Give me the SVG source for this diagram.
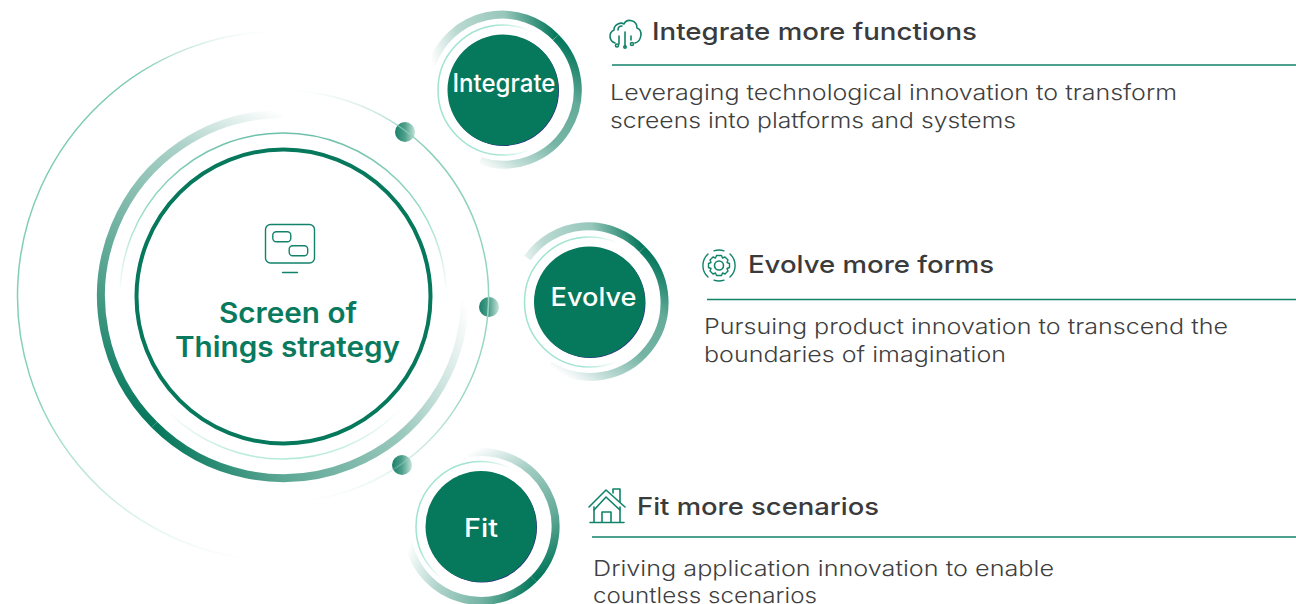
<svg xmlns="http://www.w3.org/2000/svg" width="1296" height="604" viewBox="0 0 1296 604">
<style>
text{font-family:Inter,"Open Sans","Liberation Sans",sans-serif}
.head{font-size:24px;font-weight:500;fill:#3b3b3b}
.body{font-size:22px;font-weight:300;fill:#3f3f3f}
.title{font-size:28px;font-weight:600;fill:#0a7a5e}
.lab{font-weight:500;fill:#fff}
.rule{stroke:#12836a;stroke-width:1.5;fill:none}
.ico{stroke:#12836a;stroke-width:1.6;fill:none;stroke-linecap:round;stroke-linejoin:round}
.thick{fill:none;stroke-width:8}
.thin{fill:none;stroke-width:1.5}
.disc{fill:#06785c}
.sliver{fill:#2b2a85}
</style>
<defs>
<linearGradient id="mainA" gradientUnits="userSpaceOnUse" x1="283" y1="114" x2="154" y2="425"><stop offset="0" stop-color="#06785c" stop-opacity="0"/><stop offset=".2" stop-color="#06785c" stop-opacity=".33"/><stop offset=".6" stop-color="#06785c" stop-opacity=".65"/><stop offset="1" stop-color="#06785c"/></linearGradient>
<linearGradient id="mainB" gradientUnits="userSpaceOnUse" x1="154" y1="425" x2="465" y2="300"><stop offset="0" stop-color="#06785c"/><stop offset=".3" stop-color="#06785c" stop-opacity=".65"/><stop offset=".68" stop-color="#06785c" stop-opacity=".4"/><stop offset="1" stop-color="#06785c" stop-opacity="0"/></linearGradient>
<linearGradient id="mainThin" gradientUnits="userSpaceOnUse" x1="0" y1="133" x2="0" y2="459"><stop offset="0" stop-color="#6cbfa8"/><stop offset=".25" stop-color="#9adccb"/><stop offset=".49" stop-color="#9adccb" stop-opacity="0"/><stop offset=".85" stop-color="#b5ead9" stop-opacity="0"/><stop offset="1" stop-color="#b5ead9"/></linearGradient>
<linearGradient id="outerL" gradientUnits="userSpaceOnUse" x1="0" y1="31" x2="0" y2="561"><stop offset="0" stop-color="#7cc9b3" stop-opacity="0"/><stop offset=".08" stop-color="#7cc9b3"/><stop offset=".7" stop-color="#85d2bc"/><stop offset="1" stop-color="#85d2bc" stop-opacity="0"/></linearGradient>
<linearGradient id="outerR" gradientUnits="userSpaceOnUse" x1="0" y1="90" x2="0" y2="502"><stop offset="0" stop-color="#7cc9b3" stop-opacity="0"/><stop offset=".12" stop-color="#8ccfbb"/><stop offset=".75" stop-color="#9bd8c6"/><stop offset="1" stop-color="#9bd8c6" stop-opacity="0"/></linearGradient>
<linearGradient id="dot" x1="0" y1="0" x2="1" y2="0"><stop offset="0" stop-color="#1a8069"/><stop offset=".5" stop-color="#4fa08c"/><stop offset="1" stop-color="#c5e3da"/></linearGradient>
<linearGradient id="upA" gradientUnits="userSpaceOnUse" x1="-71" y1="-25" x2="53" y2="-53"><stop offset="0" stop-color="#06785c" stop-opacity="0"/><stop offset=".25" stop-color="#06785c" stop-opacity=".28"/><stop offset=".65" stop-color="#06785c" stop-opacity=".42"/><stop offset="1" stop-color="#06785c"/></linearGradient>
<linearGradient id="upB" gradientUnits="userSpaceOnUse" x1="53" y1="-53" x2="-30" y2="71"><stop offset="0" stop-color="#06785c"/><stop offset=".3" stop-color="#06785c" stop-opacity=".62"/><stop offset=".6" stop-color="#06785c" stop-opacity=".55"/><stop offset=".85" stop-color="#06785c" stop-opacity=".25"/><stop offset="1" stop-color="#06785c" stop-opacity="0"/></linearGradient>
<linearGradient id="upThin" gradientUnits="userSpaceOnUse" x1="-65" y1="0" x2="28" y2="0"><stop offset="0" stop-color="#9fe3d0"/><stop offset=".6" stop-color="#9fe3d0"/><stop offset="1" stop-color="#9fe3d0" stop-opacity="0"/></linearGradient>
<linearGradient id="fitA" gradientUnits="userSpaceOnUse" x1="-14" y1="-73" x2="53" y2="53"><stop offset="0" stop-color="#06785c" stop-opacity="0"/><stop offset=".3" stop-color="#06785c" stop-opacity=".38"/><stop offset=".65" stop-color="#06785c" stop-opacity=".62"/><stop offset="1" stop-color="#06785c"/></linearGradient>
<linearGradient id="fitB" gradientUnits="userSpaceOnUse" x1="53" y1="53" x2="-72" y2="17"><stop offset="0" stop-color="#06785c"/><stop offset=".35" stop-color="#06785c" stop-opacity=".55"/><stop offset=".7" stop-color="#06785c" stop-opacity=".32"/><stop offset="1" stop-color="#06785c" stop-opacity="0"/></linearGradient>
<linearGradient id="fitThin" gradientUnits="userSpaceOnUse" x1="-61" y1="-21" x2="-1" y2="16"><stop offset="0" stop-color="#9fe3d0"/><stop offset=".3" stop-color="#9fe3d0"/><stop offset=".82" stop-color="#9fe3d0" stop-opacity="0"/></linearGradient>
</defs>

<g id="connectors">
<circle cx="405" cy="132" r="10" fill="url(#dot)"/>
<circle cx="489" cy="307" r="10" fill="url(#dot)"/>
<circle cx="402" cy="465" r="10" fill="url(#dot)"/>
<path class="thin" stroke="url(#outerL)" d="M283 31A265 265 0 0 0 250 559"/>
<path class="thin" stroke="url(#outerR)" d="M283 90.500A205.500 205.500 0 1 1 265 500.700"/>
</g>

<g id="center">
<path class="thick" stroke="url(#mainA)" d="M283 114A182 182 0 0 0 154.300 424.700"/>
<path class="thick" stroke="url(#mainB)" d="M154.300 424.700A182 182 0 0 0 465 300"/>
<circle class="thin" cx="283" cy="296" r="163" stroke="url(#mainThin)"/>
<circle cx="283.500" cy="296.500" r="147" fill="none" stroke="#06785c" stroke-width="4"/>
<g class="ico" style="stroke-width:1.4">
<rect x="265.500" y="224.500" width="49" height="38.500" rx="5"/>
<rect x="272.800" y="231.800" width="18" height="10" rx="3.500"/>
<rect x="289.200" y="245.800" width="18.500" height="10" rx="3.500"/>
<path d="M282.500 272.500H297.500"/>
</g>
<text class="title" x="288" y="323" text-anchor="middle" textLength="138" lengthAdjust="spacingAndGlyphs">Screen of</text>
<text class="title" x="287.500" y="357" text-anchor="middle" textLength="225" lengthAdjust="spacingAndGlyphs">Things strategy</text>
</g>

<g id="integrate" transform="translate(503 90)">
<path class="thick" stroke="url(#upA)" d="M-71 -26A74.500 74.500 0 0 1 52.700 -52.700"/>
<path class="thick" stroke="url(#upB)" d="M52.700 -52.700A74.500 74.500 0 0 1 -23 71"/>
<circle class="thin" r="65" stroke="url(#upThin)"/>
<circle class="sliver" cx=".7" cy=".7" r="55.300"/>
<circle class="disc" r="55.500"/>
<text class="lab" x="1" y="2" font-size="25.500" text-anchor="middle" textLength="103" lengthAdjust="spacingAndGlyphs">Integrate</text>
</g>

<g id="evolve" transform="translate(589.500 302)">
<path class="thick" stroke="url(#upA)" d="M-62 -44A74.500 74.500 0 0 1 52.700 -52.700"/>
<path class="thick" stroke="url(#upB)" d="M52.700 -52.700A74.500 74.500 0 0 1 -40 63"/>
<circle class="thin" r="65" stroke="url(#upThin)"/>
<circle class="sliver" cx=".7" cy=".7" r="55.300"/>
<circle class="disc" r="55.500"/>
<text class="lab" x="4" y="4" font-size="25" text-anchor="middle" textLength="86" lengthAdjust="spacingAndGlyphs">Evolve</text>
</g>

<g id="fit" transform="translate(481 526.500)">
<path class="thick" stroke="url(#fitA)" d="M-14 -73.200A74.500 74.500 0 0 1 52.700 52.700"/>
<path class="thick" stroke="url(#fitB)" d="M52.700 52.700A74.500 74.500 0 0 1 -72.500 17"/>
<circle class="thin" r="65" stroke="url(#fitThin)"/>
<circle class="sliver" cx=".7" cy=".7" r="55.300"/>
<circle class="disc" r="55.500"/>
<text class="lab" x="0" y="10" font-size="25" text-anchor="middle" textLength="34" lengthAdjust="spacingAndGlyphs">Fit</text>
</g>

<g id="integrate-text">
<g class="ico">
<path d="M615 43C609 41 608 33 614 30C614 24 621 22 624 24C627 18 637 20 637 28C643 30 642 41 635 43"/>
<path d="M618 30C618 27 620 26 622 26"/>
<path d="M625 32V47M619 36V44M631 36V40"/>
<circle cx="617" cy="45.500" r="1.500"/><circle cx="625" cy="47" r="1.200"/><circle cx="632" cy="44" r="1.500"/>
</g>
<text class="head" x="652" y="40" textLength="325" lengthAdjust="spacingAndGlyphs">Integrate more functions</text>
<path class="rule" d="M612 65H1296"/>
<text class="body" x="610" y="100" textLength="567" lengthAdjust="spacingAndGlyphs">Leveraging technological innovation to transform</text>
<text class="body" x="610" y="128" textLength="406" lengthAdjust="spacingAndGlyphs">screens into platforms and systems</text>
</g>

<g id="evolve-text">
<g class="ico">
<path d="M708 254A15.500 15.500 0 0 0 708 277M730 254A15.500 15.500 0 0 1 730 277" style="stroke-width:1.4"/>
<path d="M714 250.800A15.500 15.500 0 0 1 724 250.800M714 280.200A15.500 15.500 0 0 0 724 280.200" style="stroke-width:1.4"/>
<circle cx="719" cy="265.500" r="4.500"/>
<path d="M716.500 255.500H721.500L722.500 258L725 257L728 260L727 262.500L729.500 263.500V267.500L727 268.500L728 271L725 274L722.500 273L721.500 275.500H716.500L715.500 273L713 274L710 271L711 268.500L708.500 267.500V263.500L711 262.500L710 260L713 257L715.500 258Z" style="stroke-width:1.4"/>
</g>
<text class="head" x="748" y="273" textLength="246" lengthAdjust="spacingAndGlyphs">Evolve more forms</text>
<path class="rule" d="M707 299.500H1296"/>
<text class="body" x="704" y="334" textLength="524" lengthAdjust="spacingAndGlyphs">Pursuing product innovation to transcend the</text>
<text class="body" x="704" y="362" textLength="302" lengthAdjust="spacingAndGlyphs">boundaries of imagination</text>
</g>

<g id="fit-text">
<g class="ico">
<path d="M589 507L606 490L625 507M594 510L606 497L620 510"/>
<path d="M594 507V522M620 507V522M590 522.500H624"/>
<path d="M602 522V512H611V522"/>
<path d="M613 493V489H620V502"/>
</g>
<text class="head" x="637" y="515" textLength="242" lengthAdjust="spacingAndGlyphs">Fit more scenarios</text>
<path class="rule" d="M592 537H1296"/>
<text class="body" x="593" y="576" textLength="461" lengthAdjust="spacingAndGlyphs">Driving application innovation to enable</text>
<text class="body" x="593" y="603" textLength="224" lengthAdjust="spacingAndGlyphs">countless scenarios</text>
</g>
</svg>
